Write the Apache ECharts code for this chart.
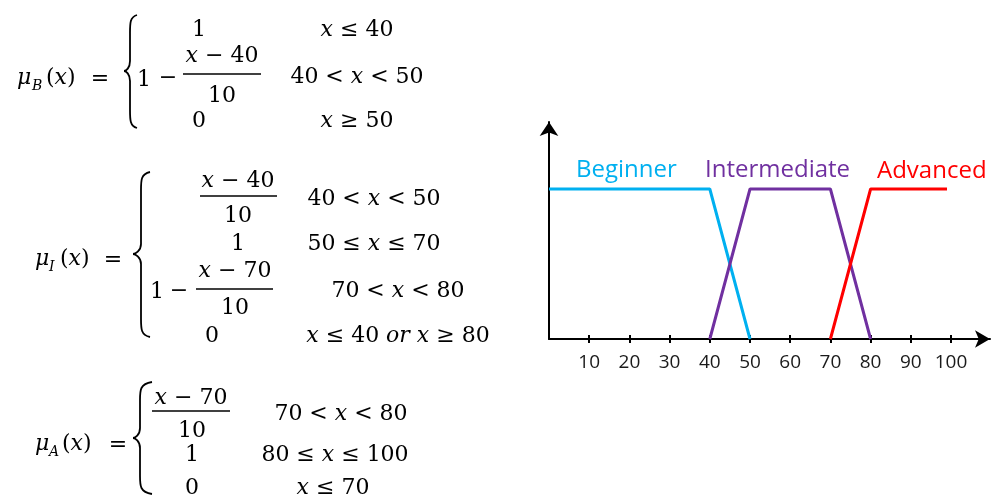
<!DOCTYPE html>
<html>
<head>
<meta charset="utf-8">
<script src="https://cdn.jsdelivr.net/npm/echarts@6/dist/echarts.min.js"></script>
<style>
html,body{margin:0;padding:0;background:#fff;}
#chart{width:999px;height:497px;}
</style>
</head>
<body>
<div id="chart"></div>
<script>
// ---- data ----
const tickValues = [10, 20, 30, 40, 50, 60, 70, 80, 90, 100];
const seriesNames = ['Beginner', 'Intermediate', 'Advanced'];
const seriesColors = ['#00B0F0', '#7030A0', '#FF0000'];
const beginnerX = [0, 40, 50];
const beginnerY = [1, 1, 0];
const intermediateX = [40, 50, 70, 80];
const intermediateY = [0, 1, 1, 0];
const advancedX = [70, 80, 99];
const advancedY = [0, 1, 1];

function pairs(xs, ys) { return xs.map((x, i) => [x, ys[i]]); }

// ---- formula text helpers ----
const SERIF = '"DejaVu Serif"';
const FS = 22;
const DY = 3;
const fontN = (s) => 'normal ' + s + 'px ' + SERIF;
const fontI = (s) => 'italic ' + s + 'px ' + SERIF;
const RICH = {
  n: { font: fontN(FS), fontFamily: SERIF, fontSize: FS, fill: '#000' },
  i: { font: fontI(FS), fontFamily: SERIF, fontSize: FS, fontStyle: 'italic', fill: '#000' }
};
function T(x, y, s, opt) {
  opt = opt || {};
  const size = opt.size || FS;
  return {
    type: 'text', x: x, y: y + DY, silent: true,
    style: {
      text: s, fill: '#000',
      font: opt.italic ? fontI(size) : fontN(size),
      fontFamily: SERIF, fontSize: size, fontStyle: opt.italic ? 'italic' : 'normal',
      align: opt.align || 'center', verticalAlign: 'middle', rich: RICH
    }
  };
}
const STROKE = { stroke: '#000', lineWidth: 1.8, fill: null };
function bar(x1, x2, y) {
  return { type: 'line', silent: true, shape: { x1: x1, y1: y, x2: x2, y2: y },
    style: { stroke: '#000', lineWidth: 1.6 } };
}
function bz(x1, y1, c1x, c1y, c2x, c2y, x2, y2) {
  return { type: 'bezierCurve', silent: true,
    shape: { x1: x1, y1: y1, x2: x2, y2: y2, cpx1: c1x, cpy1: c1y, cpx2: c2x, cpy2: c2y },
    style: STROKE };
}
function ln(x1, y1, x2, y2) {
  return { type: 'line', silent: true, shape: { x1: x1, y1: y1, x2: x2, y2: y2 }, style: STROKE };
}
function brace(xTip, xV, xEnd, yTop, yMid, yBot) {
  return [
    bz(xEnd, yTop, xV, yTop + 2, xV, yTop + 8, xV, yTop + 18),
    ln(xV, yTop + 18, xV, yMid - 10),
    bz(xV, yMid - 10, xV, yMid - 3, xTip + 2, yMid, xTip, yMid),
    bz(xTip, yMid, xTip + 2, yMid, xV, yMid + 3, xV, yMid + 10),
    ln(xV, yMid + 10, xV, yBot - 18),
    bz(xV, yBot - 18, xV, yBot - 8, xV, yBot - 2, xEnd, yBot)
  ];
}
function mu(x, y, sub, subX, parX, eqX) {
  return [
    T(x, y, 'μ', { italic: true, align: 'left' }),
    T(subX, y + 8, sub, { italic: true, size: 14, align: 'left' }),
    T(parX, y, '{n|(}{i|x}{n|)}', { align: 'left' }),
    T(eqX, y + 1, '=')
  ];
}

const formulaB = [].concat(
  mu(17, 75, 'B', 32, 46, 100),
  brace(124, 130, 137, 15, 71, 128),
  [T(199, 27, '1'),
   T(357, 27, '{i|x}{n| ≤ 40}'),
   T(144, 77, '1'), T(168, 75, '−'),
   T(222, 53, '{i|x}{n| − 40}'),
   bar(183, 261, 74),
   T(222, 93, '10'),
   T(357, 74, '{n|40 < }{i|x}{n| < 50}'),
   T(199, 118, '0'),
   T(357, 118, '{i|x}{n| ≥ 50}')]
);
const formulaI = [].concat(
  mu(35, 256, 'I', 49, 60, 113),
  brace(133, 141, 150, 172, 254, 337),
  [T(238, 178, '{i|x}{n| − 40}'),
   bar(200, 277, 196),
   T(238, 213, '10'),
   T(374, 196, '{n|40 < }{i|x}{n| < 50}'),
   T(238, 241, '1'),
   T(374, 241, '{n|50 ≤ }{i|x}{n| ≤ 70}'),
   T(157, 289, '1'), T(179, 288, '−'),
   T(235, 268, '{i|x}{n| − 70}'),
   bar(196, 273, 289),
   T(235, 305, '10'),
   T(398, 288, '{n|70 < }{i|x}{n| < 80}'),
   T(212, 333, '0'),
   T(398, 333, '{i|x}{n| ≤ 40 }{i|or x}{n| ≥ 80}')]
);
const formulaA = [].concat(
  mu(35, 441, 'A', 49, 62, 118),
  brace(133, 140, 152, 382, 438, 494),
  [T(191, 395, '{i|x}{n| − 70}'),
   bar(152, 230, 411),
   T(192, 428, '10'),
   T(341, 411, '{n|70 < }{i|x}{n| < 80}'),
   T(192, 452, '1'),
   T(335, 452, '{n|80 ≤ }{i|x}{n| ≤ 100}'),
   T(192, 485, '0'),
   T(333, 485, '{i|x}{n| ≤ 70}')]
);

// ---- series name labels ----
const LABEL_FONT = '"Open Sans"';
const nameLabels = [
  { x: 576, y: 170 }, { x: 705, y: 170 }, { x: 877, y: 171 }
].map((p, k) => ({
  type: 'text', x: p.x, y: p.y, silent: true,
  style: { text: seriesNames[k], fill: seriesColors[k], font: 'normal 24px ' + LABEL_FONT,
    fontFamily: LABEL_FONT, fontSize: 24, align: 'left', verticalAlign: 'middle' }
}));

const chart = echarts.init(document.getElementById('chart'), null, { renderer: 'canvas' });
const GRID = { left: 549, right: 9, top: 122, bottom: 158 };
const gridH = 497 - GRID.top - GRID.bottom;
const X_MAX = 109.7;
const Y_MAX = 1.4467;

chart.setOption({
  animation: false,
  backgroundColor: '#fff',
  grid: GRID,
  xAxis: [
    {
      type: 'value', min: 0, max: X_MAX, interval: 10, position: 'bottom',
      axisLine: { show: true, onZero: false, symbol: ['none', 'arrow'], symbolSize: [13, 15],
        lineStyle: { color: '#000', width: 2 } },
      axisTick: { show: true, inside: false, length: 4, customValues: tickValues,
        lineStyle: { color: '#000', width: 2 } },
      axisLabel: { show: true, margin: 14, customValues: tickValues, color: '#1a1a1a',
        fontFamily: 'Open Sans', fontSize: 19 },
      splitLine: { show: false }
    },
    {
      type: 'value', min: 0, max: X_MAX, interval: 10, position: 'top', offset: -gridH,
      axisLine: { show: false, onZero: false },
      axisTick: { show: true, inside: false, length: 4, customValues: tickValues,
        lineStyle: { color: '#000', width: 2 } },
      axisLabel: { show: false },
      splitLine: { show: false }
    }
  ],
  yAxis: {
    type: 'value', min: 0, max: Y_MAX,
    axisLine: { show: true, onZero: false, symbol: ['none', 'arrow'], symbolSize: [14, 14],
      lineStyle: { color: '#000', width: 2 } },
    axisTick: { show: false }, axisLabel: { show: false }, splitLine: { show: false }
  },
  series: [
    { name: seriesNames[0], type: 'line', data: pairs(beginnerX, beginnerY), showSymbol: false, symbol: 'none',
      lineStyle: { color: seriesColors[0], width: 3 }, itemStyle: { color: seriesColors[0] } },
    { name: seriesNames[1], type: 'line', data: pairs(intermediateX, intermediateY), showSymbol: false, symbol: 'none',
      lineStyle: { color: seriesColors[1], width: 3 }, itemStyle: { color: seriesColors[1] } },
    { name: seriesNames[2], type: 'line', data: pairs(advancedX, advancedY), showSymbol: false, symbol: 'none',
      lineStyle: { color: seriesColors[2], width: 3 }, itemStyle: { color: seriesColors[2] } }
  ],
  graphic: { elements: [].concat(formulaB, formulaI, formulaA, nameLabels) }
});
</script>
</body>
</html>
